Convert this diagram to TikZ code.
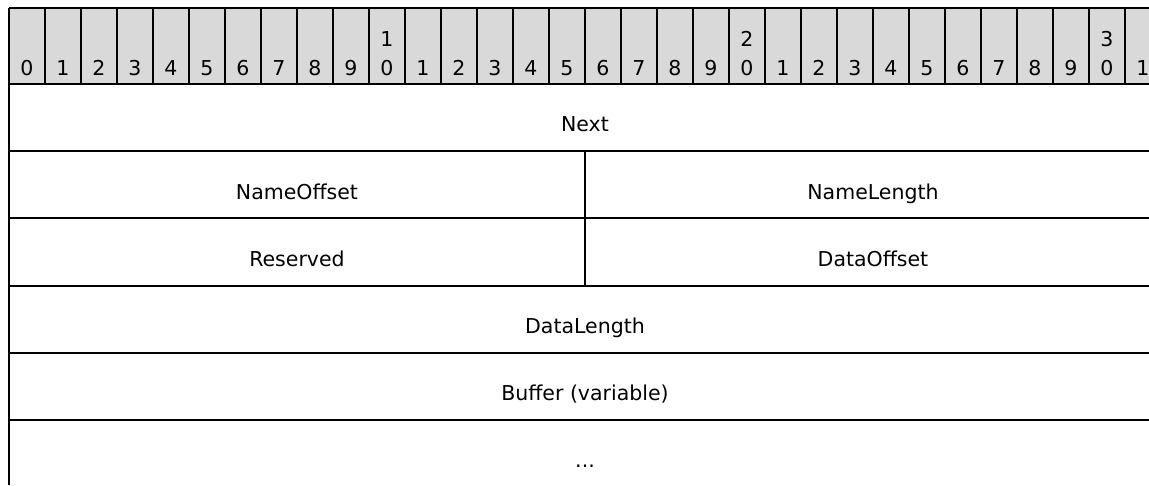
\documentclass[tikz,border=0pt]{standalone}
\usepackage{fontspec}
\setmainfont{DejaVu Sans}
\definecolor{headgray}{HTML}{D9D9D9}
\begin{document}
\begin{tikzpicture}[x=1pt,y=-1pt,
  field/.style={anchor=base,font=\fontsize{20.5}{24}\selectfont},
  bitnum/.style={anchor=base,font=\fontsize{20.5}{24}\selectfont},
  grid line/.style={line width=2pt}]
  \useasboundingbox (0,0) rectangle (1149,485);
  \clip (0,0) rectangle (1149,485);

  % Header row with the bit numbers
  \fill[headgray] (9,8) rectangle (1161,84);
  \draw[grid line] (9,8) -- (1161,8);
  \foreach \i in {0,...,32}
    \draw[grid line] (9+36*\i,8) -- (9+36*\i,84);
  \foreach \i in {0,...,31} {
    \pgfmathtruncatemacro{\ones}{mod(\i,10)}
    \pgfmathtruncatemacro{\tens}{int(\i/10)}
    \node[bitnum] (b\i) at (27+36*\i,75) {\ones};
    \ifnum\ones=0 \ifnum\i>0
      \node[bitnum] (t\i) at (27+36*\i,46) {\tens};
    \fi\fi
  }

  % Row borders
  \foreach \k in {0,...,5}
    \draw[grid line] (9,84+67.2*\k) -- (1161,84+67.2*\k);
  \draw[grid line] (9,8) -- (9,485);
  \draw[grid line] (585,151.2) -- (585,285.6);

  % Field names
  \node[field] (next) at (585,131.7) {Next};
  \node[field] (nameoff) at (297,199) {NameOffset};
  \node[field] (namelen) at (873,199) {NameLength};
  \node[field] (reserved) at (297,266.2) {Reserved};
  \node[field] (dataoff) at (873,266.2) {DataOffset};
  \node[field] (datalen) at (585,333.4) {DataLength};
  \node[field] (buffer) at (585,400.6) {Buffer (variable)};
  \node[field] (more) at (585,467.8) {...};
\end{tikzpicture}
\end{document}
